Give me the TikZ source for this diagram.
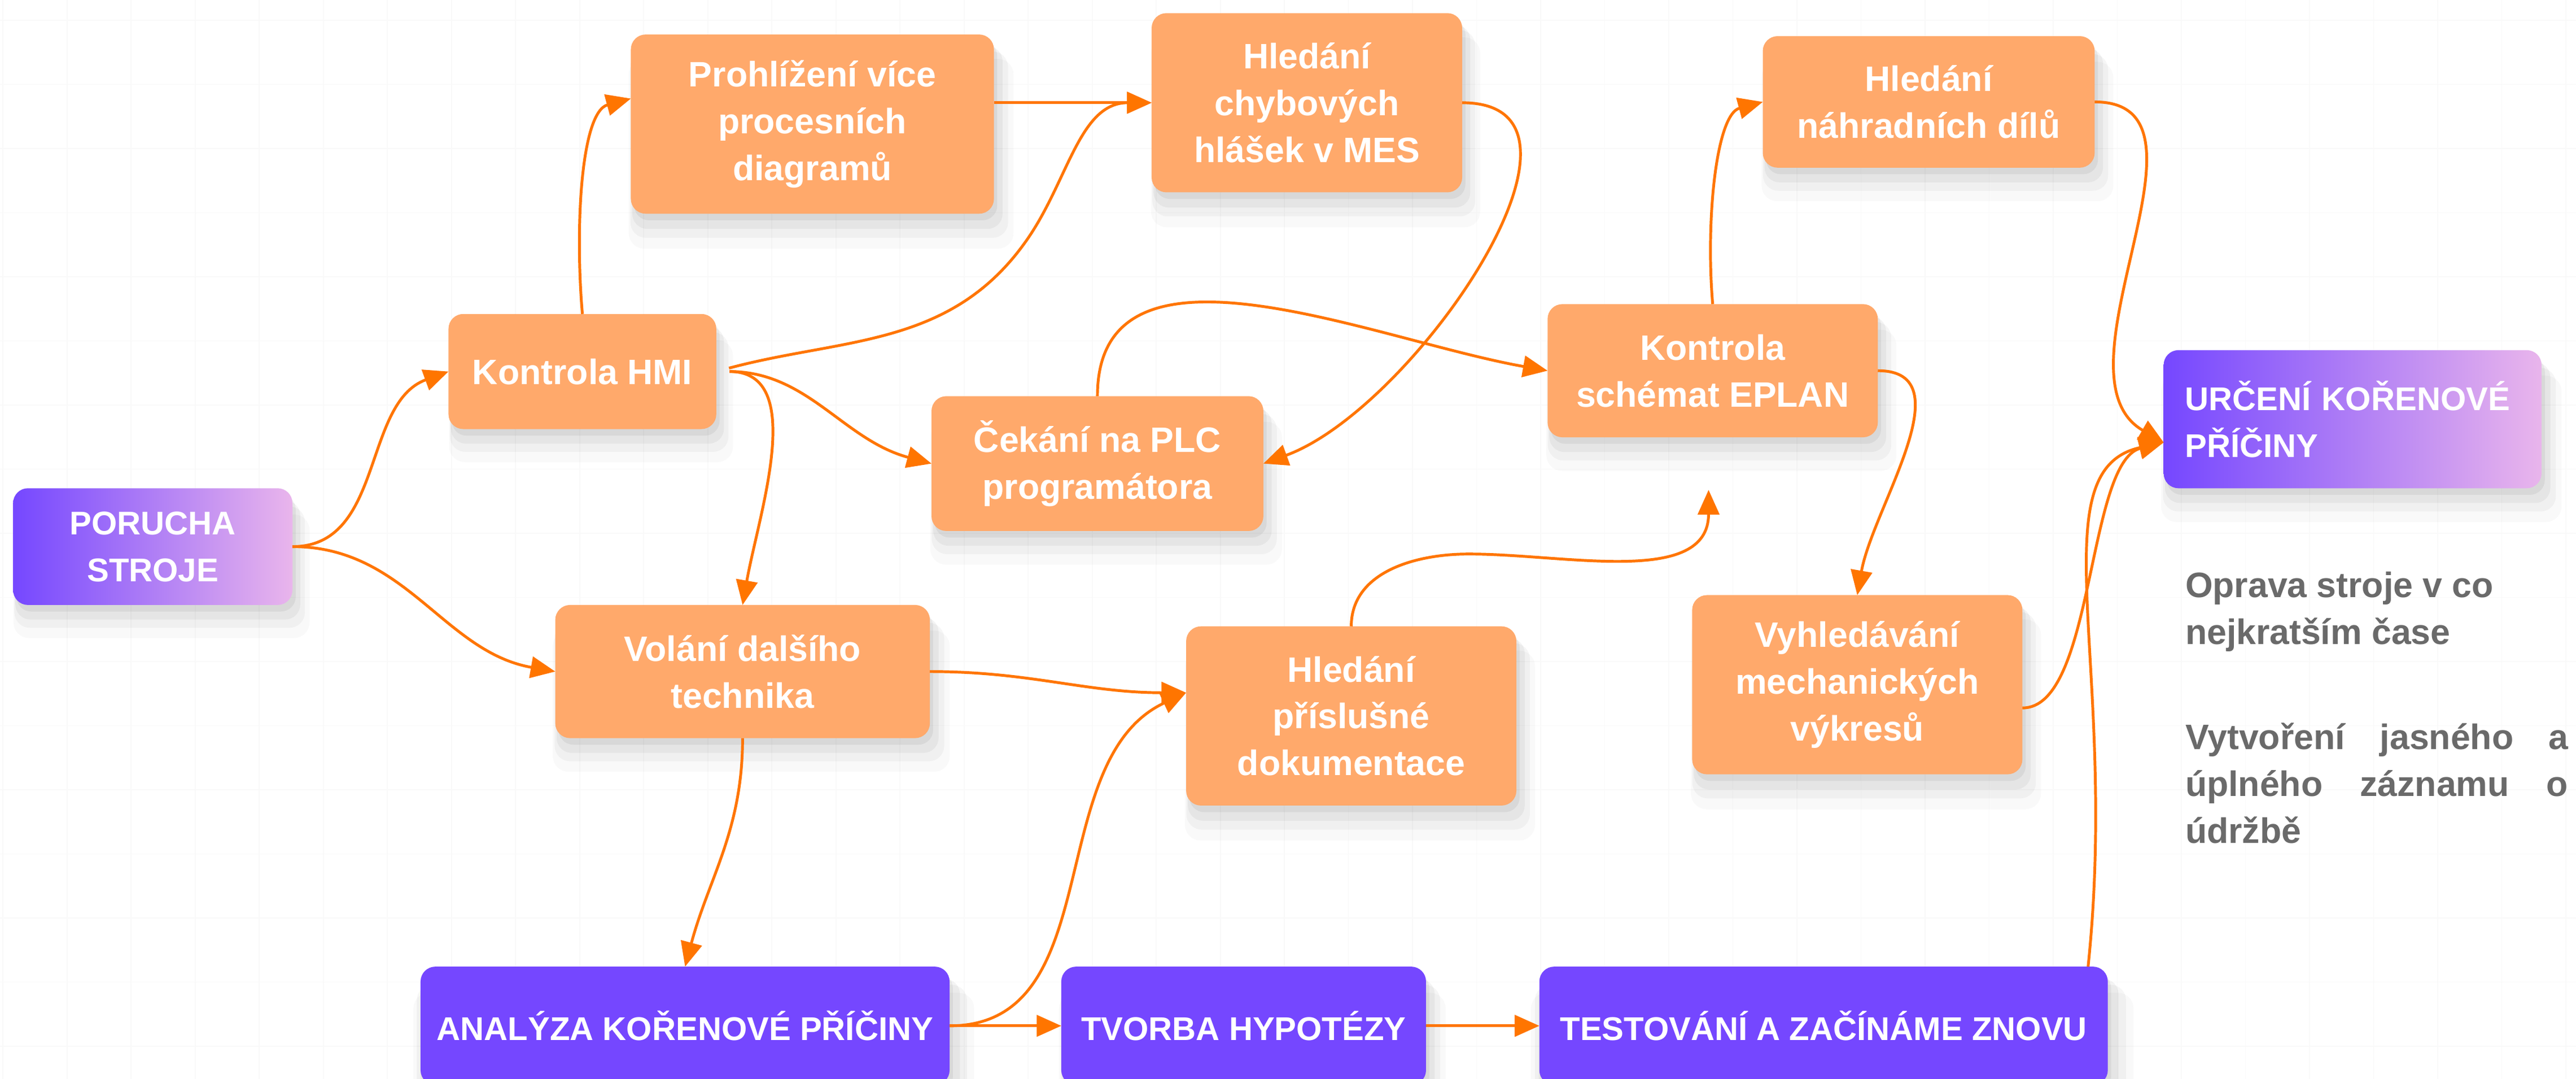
\documentclass[tikz,border=0pt]{standalone}
\usepackage{fontspec}
\setmainfont{Liberation Sans}
\usepackage{xcolor}
\usetikzlibrary{arrows.meta,shadows,positioning}

\definecolor{boxorange}{RGB}{255,169,107}
\definecolor{lineorange}{RGB}{255,117,0}
\definecolor{rootviolet}{RGB}{117,71,255}
\definecolor{rootpink}{RGB}{233,181,236}
\definecolor{notegray}{RGB}{106,106,106}

\tikzset{
    boxshadow/.style={
        general shadow={fill=black, opacity=0.05, shadow xshift=2pt, shadow yshift=-4pt},
        general shadow={fill=black, opacity=0.045, shadow xshift=3pt, shadow yshift=-8pt, shadow scale=1.02},
        general shadow={fill=black, opacity=0.035, shadow xshift=4pt, shadow yshift=-12pt, shadow scale=1.04},
        general shadow={fill=black, opacity=0.025, shadow xshift=5pt, shadow yshift=-17pt, shadow scale=1.06}},
    boxsize/.style 2 args={minimum width=#1pt, minimum height=#2pt},
    task/.style={rectangle, rounded corners=9pt, fill=boxorange, text=white, align=center,
        inner sep=0pt, outer sep=0pt, boxshadow, font=\bfseries\fontsize{21.5}{28.5}\selectfont},
    phase/.style={rectangle, rounded corners=9pt, fill=rootviolet, text=white, align=center,
        inner sep=0pt, outer sep=0pt, boxshadow, font=\bfseries\fontsize{20}{28.5}\selectfont},
    goal/.style={rectangle, rounded corners=9pt, left color=rootviolet, right color=rootpink, text=white,
        inner sep=0pt, outer sep=0pt, boxshadow, font=\bfseries\fontsize{20}{28.5}\selectfont},
    note/.style={text=notegray, align=left, inner sep=0pt, font=\bfseries\fontsize{21.5}{28.5}\selectfont},
    flow/.style={draw=lineorange, line width=1.7pt, -{Triangle[length=15pt,width=13pt]}},
    gridline/.style={draw=black!2.5, line width=0.6pt}
}

\begin{document}
\begin{tikzpicture}[x=1pt, y=1pt]
    \useasboundingbox (0,0) rectangle (1568,656);
    \clip (0,0) rectangle (1568,656);
    \fill[white] (0,0) rectangle (1568,656);

    % Background grid
    \draw[gridline, shift={(1.8,19.6)}] (-39,-39) grid[step=39] (1600,700);

    % Nodes
    \node[goal, boxsize={170}{71}, align=center] (porucha) at (93,323.5) {PORUCHA\\STROJE};
    \node[task, boxsize={163}{70}] (hmi) at (354.5,430) {Kontrola HMI};
    \node[task, boxsize={221}{109}] (prohl) at (494.5,580.5) {Prohlížení více\\procesních\\diagramů};
    \node[task, boxsize={189}{109}] (mes) at (795.5,593.5) {Hledání\\chybových\\hlášek v MES};
    \node[task, boxsize={202}{82}] (plc) at (668,374) {Čekání na PLC\\programátora};
    \node[task, boxsize={201}{81}] (eplan) at (1042.5,430.5) {Kontrola\\schémat EPLAN};
    \node[task, boxsize={202}{80}] (dily) at (1174,594) {Hledání\\náhradních dílů};
    \node[goal, boxsize={230}{84}, text width=204pt, align=left] (urceni) at (1432,401) {URČENÍ KOŘENOVÉ\\PŘÍČINY};
    \node[task, boxsize={228}{81}] (volani) at (452,247.5) {Volání dalšího\\technika};
    \node[task, boxsize={201}{109}] (dokum) at (822.5,220.5) {Hledání\\příslušné\\dokumentace};
    \node[task, boxsize={201}{109}] (vykres) at (1130.5,239.5) {Vyhledávání\\mechanických\\výkresů};
    \node[phase, boxsize={322}{72}] (analyza) at (417,32) {ANALÝZA KOŘENOVÉ PŘÍČINY};
    \node[phase, boxsize={222}{72}] (tvorba) at (757,32) {TVORBA HYPOTÉZY};
    \node[phase, boxsize={346}{72}] (testov) at (1110,32) {TESTOVÁNÍ A ZAČÍNÁME ZNOVU};

    % Notes
    \node[note, anchor=base west] (oprava) at (1330,264) {Oprava stroje v co\\nejkratším čase};
    \node[note, anchor=base west] (zaznam) at (1330,143)
        {\makebox[233pt][s]{Vytvoření jasného a}\\\makebox[233pt][s]{úplného záznamu o}\\údržbě};

    % Bend points
    \coordinate (hmibend) at (625,510);
    \coordinate (dokbend) at (894,319);
    \coordinate (eplanpt) at (1040,358);

    % Edges with arrows
    \draw[flow] (porucha.east) to[out=0,in=200] (hmi.west);
    \draw[flow] (porucha.east) to[out=0,in=170] (volani.west);
    \draw[flow] (hmi.north) to[out=95,in=195,in looseness=0.6] (prohl.172);
    \draw[flow] (prohl.east |- mes.west) -- (mes.west);
    \draw[flow, shorten <=8pt] (hmi.east) to[out=15,in=235] (hmibend) to[out=55,in=180] (mes.west);
    \draw[flow, shorten <=8pt] (hmi.east) to[out=0,in=165] (plc.west);
    \draw[flow, shorten <=8pt] (hmi.east) to[out=0,in=80] (volani.north);
    \draw[flow] (mes.east) to[out=0,in=20] (plc.east);
    \draw[flow] (plc.north) to[out=90,in=170] (eplan.west);
    \draw[flow] (eplan.north) to[out=95,in=195,in looseness=0.6] (dily.west);
    \draw[flow] (eplan.east) to[out=0,in=80] (vykres.north);
    \draw[flow] (dily.east) to[out=0,in=150] (urceni.187);
    \draw[flow] (vykres.352) .. controls (1275,225) and (1270,375) .. (urceni.187);
    \draw[flow] ([xshift=-12pt]testov.north east) .. controls (1290,250) and (1240,370) .. (urceni.187);
    \draw[flow] (volani.east) to[out=0,in=180] (dokum.172);
    \draw[flow] (volani.south) to[out=-90,in=75] (analyza.north);
    \draw[flow] (analyza.east) -- (tvorba.west);
    \draw[flow] (analyza.east) to[out=0,in=205] (dokum.172);
    \draw[flow] (tvorba.east) -- (testov.west);
    \draw[flow] (dokum.north) to[out=90,in=180] (dokbend) to[out=0,in=-90] (eplanpt);

\end{tikzpicture}
\end{document}
